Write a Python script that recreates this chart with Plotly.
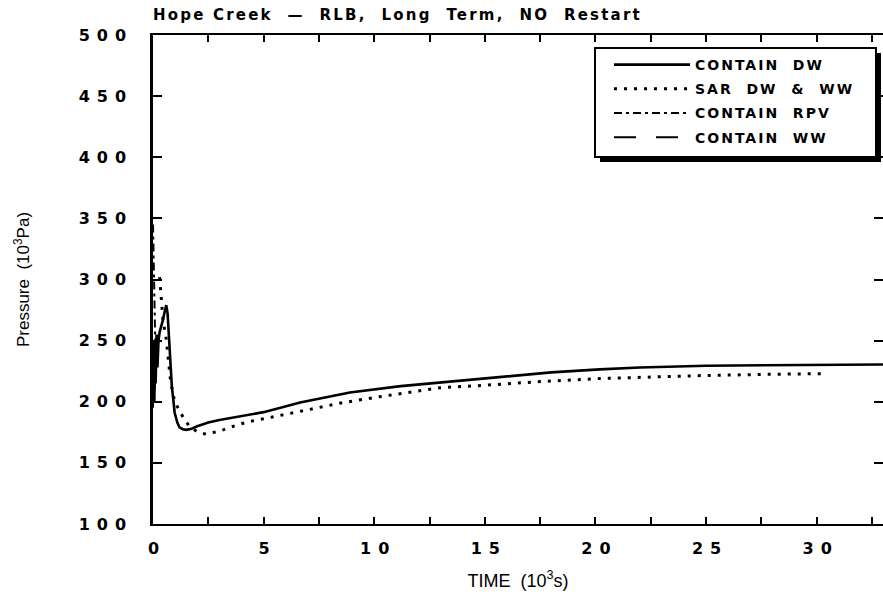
import plotly.graph_objects as go

# ---------------- data ----------------
# CONTAIN DW (solid)
dw_t = [0.0, 0.03, 0.06, 0.09, 0.12, 0.16, 0.2, 0.25, 0.3, 0.38, 0.45, 0.52, 0.6, 0.66, 0.75,
        0.85, 0.98, 1.1, 1.2, 1.35, 1.5, 1.75, 2.0, 2.5, 3.0, 3.6, 4.4, 5.0, 6.65, 8.9,
        11.2, 13.4, 16.0, 18.0, 20.2, 22.0, 25.0, 28.0, 30.0, 33.0]
dw_p = [205, 250, 200, 240, 215, 255, 228, 250, 257, 262, 267, 273, 279, 272, 240,
        213, 191, 183, 179, 177.5, 177, 178, 180, 183, 185, 187, 189.5, 191.5, 199.4, 207.6,
        212.8, 216.5, 221, 224, 226.5, 228, 229.5, 230, 230.3, 230.5]

# SAR DW & WW (dotted)
sar_t = [0.3, 0.37, 0.45, 0.6, 0.7, 0.8, 0.98, 1.2, 1.43, 1.65, 2.03, 2.4, 3.0, 3.8,
         4.4, 5.4, 6.65, 8.5, 10.2, 13.0, 15.0, 17.5, 20.2, 22.0, 25.0, 28.0, 30.2]
sar_p = [302, 284, 267, 251, 232, 216, 200, 193, 185, 180, 175, 173.5, 176, 181,
         184, 187.5, 192.3, 199, 204, 211.5, 213.5, 216.5, 219, 220, 221.5, 222.5, 223]

# CONTAIN RPV (dash-dot), only visible hugging the axis at the start
rpv_t = [0.0, 0.02, 0.04, 0.06, 0.08, 0.1, 0.12]
rpv_p = [345, 325, 300, 280, 262, 246, 232]

# CONTAIN WW (long dash), only visible hugging the axis at the start
ww_t = [0.0, 0.02, 0.04, 0.06, 0.08, 0.1, 0.12]
ww_p = [195, 235, 205, 245, 210, 238, 215]

x_ticks = [0, 5, 10, 15, 20, 25, 30]
y_ticks = [100, 150, 200, 250, 300, 350, 400, 450, 500]

# ---------------- layout geometry ----------------
W, H = 883, 597
L, R, T, B = 153, 0, 35, 73
PW, PH = W - L - R, H - T - B


def px_x(px):
    return (px - L) / PW


def px_y(py):
    return (H - B - py) / PH


fig = go.Figure()
fig.add_trace(go.Scatter(x=dw_t, y=dw_p, mode="lines", name="CONTAIN  DW",
                         line=dict(color="black", width=2.6), legendgroup="a"))
fig.add_trace(go.Scatter(x=sar_t, y=sar_p, mode="lines", name="SAR  DW  &  WW",
                         line=dict(color="black", width=3, dash="3px,7px"), legendgroup="b"))
fig.add_trace(go.Scatter(x=rpv_t, y=rpv_p, mode="lines", name="CONTAIN  RPV",
                         line=dict(color="black", width=2, dash="8px,4px,3px,4px"), legendgroup="c"))
fig.add_trace(go.Scatter(x=ww_t, y=ww_p, mode="lines", name="CONTAIN  WW",
                         line=dict(color="black", width=2, dash="22px,20px"), legendgroup="d"))

# legend frame with drop shadow (legend itself is transparent, drawn on top)
fig.add_shape(type="rect", xref="paper", yref="paper",
              x0=px_x(600), x1=px_x(881), y0=px_y(162), y1=px_y(53),
              fillcolor="black", line=dict(width=0), layer="above")
fig.add_shape(type="rect", xref="paper", yref="paper",
              x0=px_x(595), x1=px_x(876), y0=px_y(157), y1=px_y(48),
              fillcolor="white", line=dict(color="black", width=2), layer="above")

tickfont = dict(family="DejaVu Sans", size=16, color="black", weight="bold")

fig.update_layout(
    width=W, height=H,
    margin=dict(l=L, r=R, t=T, b=B, autoexpand=False),
    paper_bgcolor="white", plot_bgcolor="white",
    showlegend=True,
    title=dict(text="Hope Creek  —  RLB,  Long  Term,  NO  Restart",
               x=0, xref="paper", xanchor="left",
               y=1 - 15 / H, yref="container", yanchor="middle",
               font=dict(family="DejaVu Sans", size=15, color="black", weight="bold")),
    legend=dict(x=px_x(609), y=px_y(49), xanchor="left", yanchor="top",
                bgcolor="rgba(0,0,0,0)", borderwidth=0,
                font=dict(family="DejaVu Sans", size=14, color="black", weight="bold"),
                itemwidth=76, traceorder="grouped", tracegroupgap=3,
                itemclick=False, itemdoubleclick=False),
    xaxis=dict(range=[0, 33], tickvals=x_ticks, ticktext=[str(v) for v in x_ticks],
               ticks="inside", ticklen=7, tickwidth=1.5, tickcolor="black",
               minor=dict(dtick=2.5, tick0=0, ticks="inside", ticklen=7, tickwidth=1.5, tickcolor="black"),
               showline=True, linecolor="black", linewidth=2, mirror="allticks",
               showgrid=False, zeroline=False, tickfont=tickfont,
               ticklabelstandoff=9, ticklabelshift=4,
               title=dict(text="TIME  (10<sup>3</sup>s)", standoff=17,
                          font=dict(family="Liberation Sans", size=18, color="black"))),
    yaxis=dict(range=[100, 500], tickvals=y_ticks, ticktext=[str(v) for v in y_ticks],
               ticks="inside", ticklen=9, tickwidth=1.5, tickcolor="black",
               showline=True, linecolor="black", linewidth=2.5, mirror="allticks",
               showgrid=False, zeroline=False, tickfont=tickfont,
               ticklabelstandoff=14,
               title=dict(text="Pressure  (10<sup>3</sup>Pa)", standoff=66,
                          font=dict(family="Liberation Sans", size=17, color="black"))),
)

post = """
document.body.style.margin = '0';
document.body.style.overflow = 'hidden';
var gd = document.getElementById('{plot_id}');
function sp(sel, v){ gd.querySelectorAll(sel).forEach(function(e){ e.style.letterSpacing = v; }); }
sp('.gtitle', '2.2px');
sp('.xtick text', '7px');
sp('.ytick text', '7px');
sp('.legendtext', '2px');
gd.querySelectorAll('.legend [clip-path]').forEach(function(e){ e.removeAttribute('clip-path'); });
"""

fig.write_html("out.html", post_script=post, config={"displayModeBar": False})
